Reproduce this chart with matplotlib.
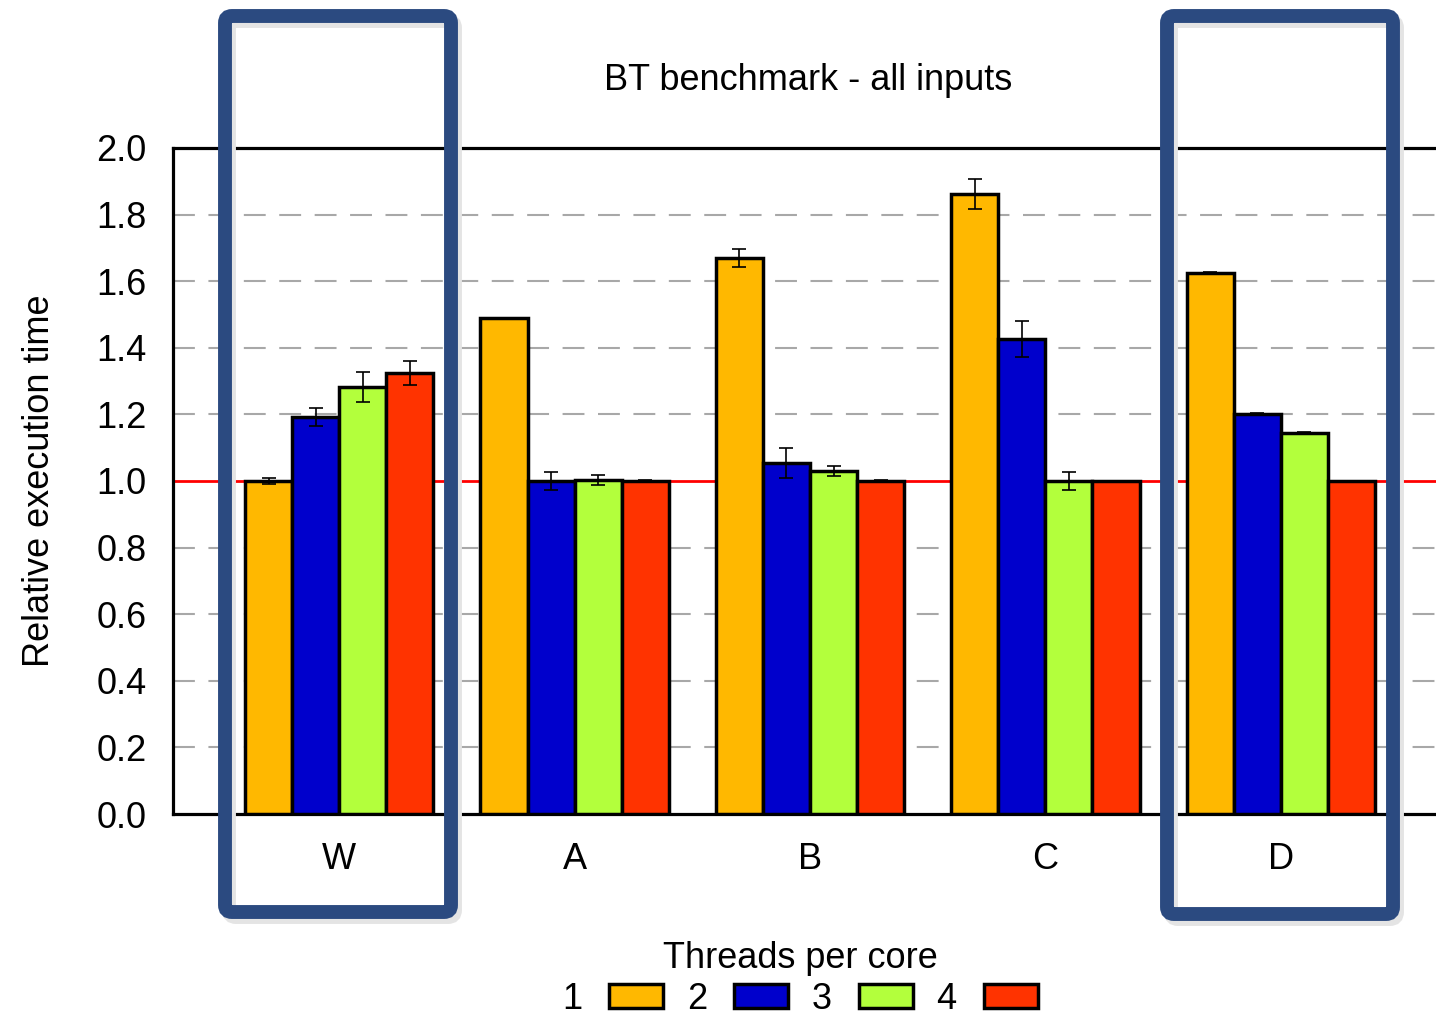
import matplotlib
matplotlib.use("Agg")
import matplotlib.pyplot as plt
import numpy as np
from matplotlib.patches import FancyBboxPatch, Patch
from matplotlib.transforms import IdentityTransform

plt.rcParams['font.family'] = ['Liberation Sans', 'DejaVu Sans']

# ---- data ----
inputs = ["W", "A", "B", "C", "D"]
threads = ["1", "2", "3", "4"]
t1 = [1.00, 1.49, 1.67, 1.862, 1.625]
t2 = [1.192, 1.00, 1.054, 1.426, 1.201]
t3 = [1.282, 1.003, 1.03, 1.00, 1.144]
t4 = [1.324, 1.00, 1.00, 1.00, 1.00]
e1 = [0.008, 0.0, 0.027, 0.044, 0.003]
e2 = [0.027, 0.027, 0.045, 0.054, 0.003]
e3 = [0.046, 0.015, 0.016, 0.027, 0.003]
e4 = [0.035, 0.003, 0.003, 0.0, 0.0]
colors = ["#FFB800", "#0000CC", "#B3FF3C", "#FF3300"]
yticks = [0.0, 0.2, 0.4, 0.6, 0.8, 1.0, 1.2, 1.4, 1.6, 1.8, 2.0]

FS = 26
W, H = 1436, 1019
fig = plt.figure(figsize=(W / 100, H / 100), dpi=100)
ax = fig.add_axes([173 / W, (H - 814) / H, (1447 - 173) / W, (814 - 148) / H])

x = np.arange(len(inputs))
bw = 0.2
series = [t1, t2, t3, t4]
errs = [e1, e2, e3, e4]
for i, (vals, er) in enumerate(zip(series, errs)):
    pos = x + (i - 1.5) * bw
    ax.bar(pos, vals, width=bw, color=colors[i], edgecolor='black',
           linewidth=2.5, zorder=3)
    ax.errorbar(pos, vals, yerr=er, fmt='none', ecolor='black',
                elinewidth=1.2, capsize=5, capthick=1.2, zorder=4)

# grid lines
for yv in yticks:
    if yv in (0.0, 2.0):
        continue
    if abs(yv - 1.0) < 1e-9:
        ax.axhline(yv, color='#FF0000', lw=2.0, zorder=2)
    else:
        ax.axhline(yv, color='#A8A8A8', lw=1.5, linestyle=(0, (10.5, 6.5)), zorder=1)

ax.set_xlim(-0.706, 4.706)
ax.set_ylim(0, 2.0)
ax.set_yticks(yticks)
ax.set_yticklabels([f"{v:.1f}" for v in yticks], fontsize=FS)
ax.set_xticks(x)
ax.set_xticklabels(inputs, fontsize=FS)
ax.tick_params(axis='both', length=0)
ax.tick_params(axis='y', pad=19)
ax.tick_params(axis='x', pad=20)
for s in ax.spines.values():
    s.set_linewidth(2.3)
ax.spines['right'].set_visible(False)

ax.set_ylabel("Relative execution time", fontsize=FS, labelpad=28)
fig.text(808 / W, (H - 80) / H, "BT benchmark - all inputs", fontsize=FS,
         ha='center', va='center')

handles = [Patch(facecolor=c, edgecolor='black', linewidth=2.5) for c in colors]
leg = fig.legend(handles, threads, loc='lower center',
                 bbox_to_anchor=(800 / W, -0.012), ncol=4, frameon=False,
                 fontsize=FS, title="Threads per core", title_fontsize=FS,
                 markerfirst=False, handlelength=1.5, handleheight=0.65,
                 handletextpad=0.75, columnspacing=0.65, borderaxespad=0.0,
                 labelspacing=0.2)
leg._legend_box.sep = 4

# highlight boxes
def hbox(x0, y0, x1, y1):
    for dx, dy, col, z in [(4, -5, '#E4E4E4', 9), (0, 0, '#2B4A80', 10)]:
        p = FancyBboxPatch((x0 + dx, H - y1 + dy), x1 - x0, y1 - y0,
                           boxstyle="round,pad=0,rounding_size=7",
                           transform=IdentityTransform(), fill=False,
                           edgecolor=col, linewidth=10, zorder=z)
        fig.add_artist(p)

hbox(225, 16, 451, 912)
hbox(1167, 16, 1393, 914)

fig.savefig("out.png", dpi=100)
